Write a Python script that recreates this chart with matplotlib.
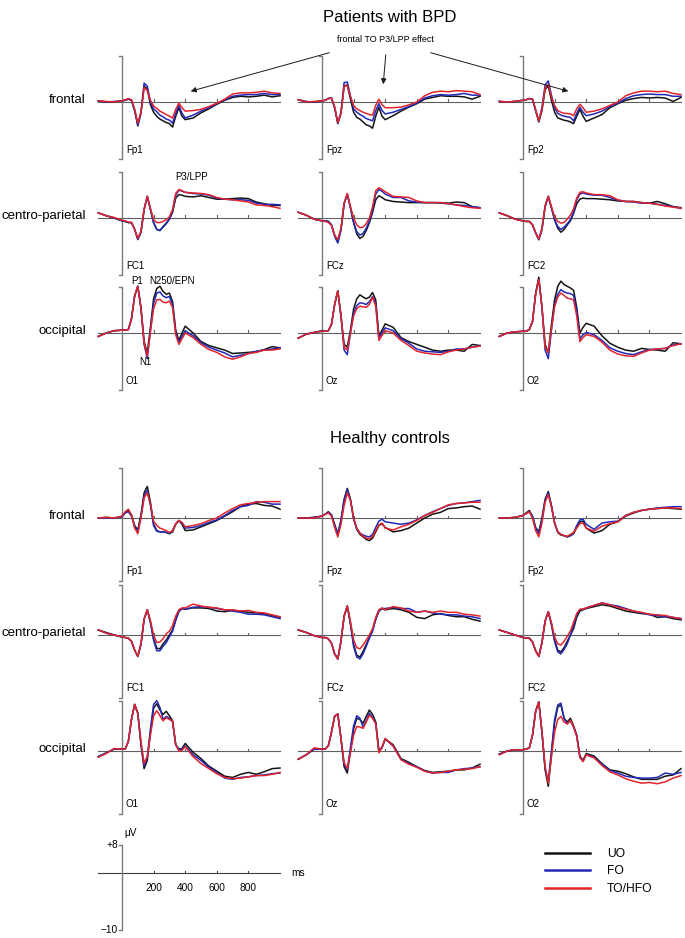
import matplotlib.pyplot as plt
from matplotlib.patches import FancyArrowPatch

plt.rcParams['font.family'] = ['Liberation Sans', 'DejaVu Sans']

# sample times (ms) shared by every trace
times = [-150, -100, -50, 0, 20, 40, 60, 80, 100, 120, 140, 160, 180, 200,
         220, 240, 260, 280, 300, 320, 340, 360, 380, 400, 450, 500, 550,
         600, 650, 700, 750, 800, 850, 900, 950, 1000]

# ---- Patients with BPD (µV) ----
bpd_fp1_uo = [0.2, 0.0, 0.0, 0.2, 0.3, 0.5, 0.3, -1.5, -4.2, -2.0, 2.8, 2.3, -0.5, -1.8, -2.5, -3.0, -3.3, -3.6, -3.8, -4.4, -2.5, -1.0, -2.5, -3.1, -2.8, -1.9, -1.2, -0.4, 0.3, 0.8, 1.0, 0.9, 1.0, 1.2, 0.9, 1.1]
bpd_fp1_fo = [0.2, 0.0, 0.1, 0.2, 0.3, 0.5, 0.3, -1.5, -4.0, -1.8, 3.3, 2.8, 0.0, -1.2, -1.7, -2.3, -2.6, -3.0, -3.2, -3.7, -2.0, -0.6, -2.0, -2.8, -2.3, -1.6, -1.0, -0.3, 0.4, 1.0, 1.2, 1.3, 1.3, 1.5, 1.3, 1.3]
bpd_fp1_to = [0.2, 0.1, 0.0, 0.2, 0.4, 0.6, 0.4, -1.2, -3.7, -1.8, 2.5, 2.0, 0.3, -0.7, -1.1, -1.6, -1.9, -2.2, -2.5, -2.8, -1.3, -0.2, -1.0, -1.6, -1.5, -1.3, -0.8, -0.2, 0.5, 1.4, 1.6, 1.6, 1.7, 1.9, 1.6, 1.5]

bpd_fpz_uo = [0.4, 0.0, 0.0, 0.2, 0.3, 0.6, 0.7, -1.0, -3.8, -2.0, 2.8, 3.0, 0.5, -1.8, -2.7, -3.0, -3.5, -4.0, -4.2, -4.6, -2.5, -0.9, -2.5, -3.1, -2.4, -1.6, -0.9, -0.3, 0.5, 0.8, 1.1, 1.0, 1.0, 0.9, 0.5, 1.0]
bpd_fpz_fo = [0.4, 0.1, 0.0, 0.2, 0.3, 0.6, 0.7, -1.0, -3.7, -1.8, 3.4, 3.5, 1.0, -1.2, -1.8, -2.2, -2.5, -2.9, -3.1, -3.3, -1.5, -0.3, -1.5, -2.1, -1.8, -1.3, -0.8, -0.2, 0.7, 1.1, 1.3, 1.2, 1.3, 1.5, 1.2, 1.2]
bpd_fpz_to = [0.4, 0.0, 0.1, 0.2, 0.3, 0.6, 0.7, -0.8, -3.6, -2.0, 2.7, 2.9, 1.0, -0.6, -1.2, -1.5, -1.8, -2.0, -2.2, -2.3, -0.6, 0.5, -0.5, -1.0, -1.0, -0.9, -0.5, 0.0, 1.1, 1.7, 1.9, 1.8, 2.0, 1.9, 1.8, 1.3]

bpd_fp2_uo = [0.1, 0.0, 0.1, 0.3, 0.4, 0.6, 0.5, -1.5, -3.5, -1.5, 2.2, 2.8, 0.3, -1.8, -2.8, -3.0, -3.2, -3.3, -3.5, -3.8, -2.5, -1.3, -2.5, -3.4, -2.8, -2.2, -1.0, -0.3, 0.3, 0.6, 0.8, 0.7, 0.8, 0.7, 0.1, 0.8]
bpd_fp2_fo = [0.1, 0.0, 0.1, 0.3, 0.4, 0.6, 0.5, -1.5, -3.4, -1.0, 3.0, 3.7, 1.2, -1.0, -2.0, -2.3, -2.5, -2.6, -2.7, -3.3, -2.0, -0.9, -1.8, -2.4, -2.1, -1.6, -0.8, -0.2, 0.6, 1.1, 1.3, 1.4, 1.3, 1.3, 1.0, 1.0]
bpd_fp2_to = [0.1, 0.0, 0.1, 0.3, 0.4, 0.6, 0.5, -1.3, -3.3, -1.2, 2.5, 3.1, 0.8, -0.6, -1.5, -1.8, -2.0, -2.0, -2.1, -2.4, -1.2, -0.4, -1.0, -1.8, -1.6, -1.2, -0.6, 0.0, 1.1, 1.6, 1.9, 1.9, 1.8, 1.9, 1.5, 1.3]

bpd_fc1_uo = [0.9, 0.4, 0.0, -0.5, -0.6, -0.8, -0.8, -2.0, -3.7, -2.5, 1.5, 3.8, 1.5, -0.8, -2.0, -2.2, -1.5, -0.9, -0.2, 1.0, 3.5, 4.1, 4.0, 3.8, 3.7, 3.9, 3.6, 3.3, 3.3, 3.4, 3.5, 3.4, 2.8, 2.5, 2.2, 2.2]
bpd_fc1_fo = [0.9, 0.4, 0.0, -0.5, -0.6, -0.8, -0.8, -2.0, -3.8, -2.5, 1.5, 3.8, 1.5, -0.8, -2.0, -2.2, -1.6, -1.0, -0.2, 1.2, 4.0, 4.9, 4.7, 4.5, 4.3, 4.2, 4.0, 3.5, 3.3, 3.2, 3.2, 3.1, 2.6, 2.4, 2.4, 2.3]
bpd_fc1_to = [0.9, 0.4, 0.1, -0.4, -0.5, -0.7, -0.8, -2.0, -3.6, -2.3, 1.5, 3.8, 1.7, -0.3, -0.8, -0.8, -0.6, -0.3, 0.2, 1.5, 4.3, 5.0, 4.8, 4.5, 4.4, 4.3, 4.1, 3.6, 3.3, 3.2, 3.0, 2.8, 2.3, 2.2, 2.0, 1.7]

bpd_fcz_uo = [1.0, 0.5, -0.2, -0.5, -0.5, -0.6, -1.2, -3.0, -4.2, -2.0, 2.5, 4.2, 1.8, -0.8, -2.8, -3.6, -3.2, -2.2, -0.8, 1.0, 3.2, 3.9, 3.6, 3.2, 2.9, 2.8, 2.7, 2.7, 2.7, 2.7, 2.7, 2.6, 2.8, 2.7, 2.0, 1.8]
bpd_fcz_fo = [1.0, 0.5, -0.2, -0.5, -0.5, -0.6, -1.2, -3.2, -4.4, -2.2, 2.5, 4.2, 1.8, -0.8, -2.4, -3.0, -2.7, -1.8, -0.5, 1.5, 4.2, 5.0, 4.7, 4.2, 3.6, 3.6, 3.0, 2.8, 2.7, 2.7, 2.6, 2.5, 2.3, 2.2, 2.0, 1.8]
bpd_fcz_to = [1.0, 0.5, -0.2, -0.5, -0.6, -0.8, -1.3, -3.0, -3.8, -1.8, 2.6, 4.3, 2.0, 0.0, -1.2, -1.7, -1.6, -1.0, 0.0, 2.0, 4.8, 5.3, 5.0, 4.6, 3.8, 3.7, 3.6, 3.0, 2.7, 2.7, 2.7, 2.5, 2.3, 2.0, 1.8, 1.7]

bpd_fc2_uo = [0.9, 0.4, -0.2, -0.5, -0.6, -0.6, -1.2, -2.6, -3.8, -2.0, 2.0, 3.8, 1.8, -0.3, -1.8, -2.5, -2.0, -1.2, -0.5, 0.8, 2.5, 3.3, 3.5, 3.4, 3.4, 3.3, 3.2, 3.0, 2.9, 2.9, 2.7, 2.6, 2.9, 2.5, 2.0, 1.8]
bpd_fc2_fo = [0.9, 0.4, -0.2, -0.5, -0.6, -0.6, -1.2, -2.6, -3.8, -2.0, 2.0, 3.8, 1.8, -0.3, -1.5, -2.0, -1.6, -1.0, -0.3, 1.0, 3.2, 4.2, 4.4, 4.2, 4.0, 4.0, 3.6, 3.1, 2.9, 2.8, 2.6, 2.6, 2.4, 2.2, 2.0, 1.7]
bpd_fc2_to = [0.9, 0.4, -0.2, -0.5, -0.6, -0.6, -1.2, -2.6, -3.7, -1.8, 2.2, 3.8, 2.0, 0.2, -0.6, -0.9, -0.8, -0.2, 0.5, 1.6, 3.5, 4.5, 4.6, 4.4, 4.1, 4.1, 3.9, 3.2, 2.9, 2.9, 2.7, 2.6, 2.4, 2.1, 1.9, 1.7]

bpd_o1_uo = [-0.6, 0.0, 0.4, 0.5, 0.5, 0.6, 2.5, 6.5, 8.2, 4.5, -1.5, -3.5, 1.0, 6.0, 7.8, 8.2, 7.3, 6.8, 7.0, 5.5, 0.5, -1.3, 0.0, 1.2, 0.0, -1.5, -2.2, -2.6, -3.0, -3.6, -3.5, -3.4, -3.3, -2.9, -2.4, -2.6]
bpd_o1_fo = [-0.6, 0.0, 0.4, 0.5, 0.5, 0.6, 2.5, 6.5, 8.2, 4.3, -2.0, -4.5, 0.5, 5.2, 7.0, 7.2, 6.5, 6.2, 6.4, 5.0, 0.0, -1.6, -0.6, 0.4, -0.5, -1.7, -2.5, -3.0, -3.5, -4.2, -3.9, -3.6, -3.2, -3.0, -2.8, -2.6]
bpd_o1_to = [-0.6, 0.0, 0.4, 0.5, 0.5, 0.6, 2.5, 6.5, 8.2, 4.4, -1.8, -4.0, 0.2, 4.3, 5.8, 5.9, 5.4, 5.3, 5.6, 4.5, -0.3, -2.0, -1.0, 0.0, -0.8, -2.0, -2.9, -3.4, -4.2, -4.6, -4.2, -3.6, -3.4, -3.0, -3.0, -2.8]

bpd_oz_uo = [-0.9, -0.2, 0.1, 0.4, 0.3, 0.4, 1.5, 5.0, 7.4, 3.0, -2.0, -2.5, 0.5, 4.2, 6.0, 6.7, 6.3, 6.0, 6.3, 7.1, 5.8, -0.5, 0.5, 1.6, 1.0, -0.8, -1.5, -2.0, -2.5, -3.0, -3.2, -3.0, -3.0, -3.2, -2.0, -2.2]
bpd_oz_fo = [-0.9, -0.2, 0.1, 0.3, 0.3, 0.4, 1.5, 5.0, 7.4, 3.0, -3.0, -3.8, 0.0, 3.5, 4.8, 5.3, 5.2, 5.0, 5.5, 6.4, 5.2, -0.8, 0.0, 0.9, 0.4, -1.0, -1.8, -2.8, -3.2, -3.3, -3.4, -3.2, -2.8, -2.8, -2.5, -2.2]
bpd_oz_to = [-0.9, -0.2, 0.1, 0.3, 0.3, 0.4, 1.5, 5.0, 7.4, 3.0, -2.5, -3.0, 0.0, 3.0, 4.3, 4.7, 4.6, 4.5, 5.0, 6.3, 4.7, -1.3, -0.4, 0.4, 0.0, -1.3, -2.2, -3.2, -3.5, -3.7, -3.8, -3.3, -3.0, -2.8, -2.5, -2.3]

bpd_o2_uo = [-0.6, 0.0, 0.2, 0.3, 0.3, 0.6, 2.0, 7.0, 9.8, 4.5, -2.0, -3.5, 1.5, 5.8, 8.2, 9.1, 8.5, 8.2, 7.9, 7.5, 4.5, 0.0, 1.0, 1.7, 1.2, -0.5, -1.8, -2.5, -3.0, -3.2, -2.7, -2.9, -3.0, -3.2, -1.7, -1.9]
bpd_o2_fo = [-0.6, 0.0, 0.2, 0.3, 0.3, 0.6, 2.0, 6.8, 9.4, 4.5, -3.0, -4.5, 0.5, 5.0, 6.8, 7.6, 7.2, 7.0, 6.9, 6.6, 4.0, -1.0, -0.3, 0.1, -0.3, -1.3, -2.6, -3.2, -3.6, -3.8, -3.3, -2.9, -2.8, -2.7, -2.1, -1.9]
bpd_o2_to = [-0.6, 0.0, 0.2, 0.3, 0.3, 0.6, 2.0, 6.8, 9.4, 4.5, -2.5, -3.4, 0.8, 4.6, 6.3, 7.0, 6.6, 6.1, 6.0, 5.8, 3.0, -1.5, -0.8, -0.3, -0.6, -1.6, -3.0, -3.7, -4.0, -4.1, -3.5, -3.0, -2.8, -2.7, -2.2, -1.9]

# ---- Healthy controls (µV) ----
hc_fp1_uo = [0.0, 0.1, 0.0, 0.2, 0.8, 1.2, 0.5, -1.2, -1.9, 0.5, 4.0, 5.0, 2.5, -1.0, -2.0, -2.2, -2.2, -2.3, -2.5, -2.2, -1.0, -0.4, -1.0, -2.0, -1.9, -1.4, -0.9, -0.4, 0.3, 1.0, 1.8, 2.2, 2.3, 2.0, 1.9, 1.4]
hc_fp1_fo = [0.0, 0.0, 0.0, 0.2, 0.8, 1.0, 0.3, -1.3, -2.2, 0.2, 3.5, 4.4, 2.0, -1.2, -2.1, -2.2, -2.2, -2.3, -2.4, -2.0, -0.9, -0.4, -0.8, -1.6, -1.5, -1.2, -0.7, -0.3, 0.4, 1.2, 1.8, 2.0, 2.6, 2.5, 2.2, 2.2]
hc_fp1_to = [0.0, 0.1, 0.0, 0.3, 1.0, 1.4, 0.5, -1.6, -2.5, 0.0, 3.2, 4.0, 2.2, -0.5, -1.2, -1.6, -1.8, -2.0, -2.3, -2.0, -0.9, -0.4, -0.7, -1.4, -1.2, -0.9, -0.4, 0.0, 0.8, 1.5, 2.1, 2.3, 2.5, 2.6, 2.6, 2.6]

hc_fpz_uo = [0.0, 0.0, 0.1, 0.3, 0.6, 1.0, 0.5, -1.0, -2.5, -0.5, 3.0, 4.7, 3.0, 0.0, -1.8, -2.6, -3.0, -3.4, -3.6, -3.2, -2.2, -1.2, -0.9, -1.5, -2.2, -2.0, -1.6, -0.8, 0.0, 0.6, 0.9, 1.5, 1.6, 1.8, 1.9, 1.4]
hc_fpz_fo = [0.0, 0.0, 0.1, 0.3, 0.6, 0.9, 0.5, -1.2, -2.5, -0.3, 2.8, 4.5, 2.8, -0.2, -1.7, -2.4, -2.7, -2.9, -3.0, -2.6, -1.5, -0.5, -0.2, -0.6, -0.8, -1.0, -0.8, -0.3, 0.4, 1.0, 1.5, 2.0, 2.3, 2.4, 2.6, 2.8]
hc_fpz_to = [0.0, 0.0, 0.0, 0.3, 0.6, 0.8, 0.3, -1.5, -3.0, -1.0, 2.0, 4.0, 2.8, 0.0, -1.6, -2.4, -2.9, -3.2, -3.3, -2.9, -2.0, -1.1, -0.8, -1.6, -1.9, -1.4, -1.0, -0.4, 0.4, 0.9, 1.5, 2.1, 2.3, 2.4, 2.5, 2.5]

hc_fp2_uo = [0.0, 0.0, 0.1, 0.4, 0.8, 1.2, 0.3, -1.5, -2.2, 0.0, 3.0, 4.2, 2.0, -0.8, -2.3, -2.7, -2.8, -3.0, -2.8, -2.5, -1.5, -0.6, -0.5, -1.6, -2.4, -2.0, -1.0, -0.6, 0.3, 0.8, 1.2, 1.4, 1.5, 1.6, 1.5, 1.4]
hc_fp2_fo = [0.0, 0.0, 0.1, 0.4, 0.7, 1.0, 0.3, -1.6, -2.5, -0.3, 2.8, 4.0, 1.8, -0.8, -2.2, -2.6, -2.8, -3.0, -2.8, -2.4, -1.2, -0.3, -0.2, -1.0, -1.8, -0.8, -0.6, -0.5, 0.4, 0.9, 1.2, 1.4, 1.6, 1.7, 1.8, 1.8]
hc_fp2_to = [0.0, 0.0, 0.1, 0.4, 0.7, 1.0, 0.0, -2.0, -3.0, -0.8, 2.5, 3.7, 1.8, -0.8, -2.2, -2.6, -2.8, -2.9, -2.6, -2.3, -1.6, -0.9, -0.8, -1.6, -2.1, -1.3, -0.9, -0.6, 0.4, 0.9, 1.2, 1.4, 1.5, 1.6, 1.6, 1.5]

hc_fc1_uo = [0.8, 0.4, 0.0, -0.3, -0.4, -0.5, -1.0, -2.4, -3.4, -1.5, 2.5, 4.0, 2.0, -0.6, -2.1, -2.2, -1.4, -0.8, 0.0, 0.8, 2.5, 3.8, 4.2, 4.1, 4.3, 4.3, 4.2, 3.8, 3.7, 3.9, 3.8, 3.6, 3.5, 3.4, 3.1, 2.8]
hc_fc1_fo = [0.8, 0.3, 0.0, -0.3, -0.4, -0.5, -1.0, -2.4, -3.4, -1.5, 2.5, 4.0, 2.0, -0.8, -2.5, -2.5, -1.8, -1.2, -0.3, 0.6, 2.3, 3.7, 4.2, 4.1, 4.4, 4.5, 4.4, 4.2, 4.0, 3.8, 3.6, 3.3, 3.3, 3.2, 2.9, 2.6]
hc_fc1_to = [0.8, 0.3, 0.0, -0.3, -0.4, -0.5, -1.0, -2.4, -3.4, -1.3, 2.6, 4.0, 2.3, 0.0, -1.2, -1.1, -0.6, 0.2, 0.6, 1.5, 3.0, 4.0, 4.3, 4.3, 4.9, 4.6, 4.4, 4.3, 4.0, 4.0, 3.8, 3.9, 3.6, 3.5, 3.2, 2.9]

hc_fcz_uo = [0.8, 0.4, -0.1, -0.4, -0.4, -0.6, -1.3, -3.0, -3.8, -1.0, 3.0, 4.6, 1.8, -1.5, -3.2, -3.5, -2.6, -1.5, -0.4, 0.8, 2.5, 3.8, 4.2, 4.0, 4.2, 4.0, 3.6, 2.8, 2.6, 3.2, 3.4, 3.1, 2.9, 2.9, 2.5, 2.2]
hc_fcz_fo = [0.8, 0.4, -0.1, -0.4, -0.4, -0.6, -1.3, -3.0, -3.8, -1.0, 3.0, 4.6, 1.8, -1.8, -3.5, -3.8, -3.0, -1.8, -0.5, 0.6, 2.5, 3.8, 4.2, 4.2, 4.4, 4.2, 4.2, 3.6, 3.8, 3.5, 3.3, 3.2, 3.2, 3.0, 2.9, 2.6]
hc_fcz_to = [0.8, 0.4, -0.1, -0.4, -0.4, -0.6, -1.3, -3.0, -3.8, -1.0, 3.0, 4.6, 2.2, -0.8, -2.0, -2.2, -1.6, -0.8, 0.0, 1.0, 2.8, 4.0, 4.3, 4.0, 4.5, 4.3, 3.8, 3.6, 3.8, 3.6, 3.8, 3.6, 3.6, 3.3, 3.2, 3.0]

hc_fc2_uo = [0.8, 0.4, 0.0, -0.4, -0.5, -0.5, -1.1, -2.5, -3.4, -1.2, 2.2, 3.7, 1.8, -0.8, -2.4, -2.7, -2.0, -1.0, 0.0, 1.0, 2.8, 3.8, 4.0, 4.2, 4.5, 4.8, 4.6, 4.2, 3.8, 3.6, 3.4, 3.3, 2.8, 2.9, 2.6, 2.4]
hc_fc2_fo = [0.8, 0.4, 0.0, -0.4, -0.5, -0.5, -1.1, -2.5, -3.4, -1.2, 2.2, 3.7, 1.6, -1.0, -2.7, -3.0, -2.3, -1.4, 0.0, 1.5, 3.2, 4.0, 4.1, 4.3, 4.7, 5.1, 4.8, 4.6, 4.2, 3.8, 3.5, 3.2, 3.1, 2.9, 2.8, 2.6]
hc_fc2_to = [0.8, 0.4, 0.0, -0.4, -0.5, -0.5, -1.1, -2.5, -3.4, -1.2, 2.2, 3.7, 1.9, -0.3, -1.4, -1.6, -1.0, -0.2, 0.6, 2.0, 3.4, 4.1, 4.1, 4.3, 4.7, 5.1, 4.8, 4.4, 4.1, 3.8, 3.6, 3.3, 3.2, 3.1, 2.8, 2.6]

hc_o1_uo = [-0.9, -0.3, 0.3, 0.3, 0.3, 1.5, 5.0, 7.4, 6.0, 1.0, -2.8, -1.5, 3.0, 6.8, 7.5, 6.5, 5.8, 6.3, 5.6, 4.8, 1.0, 0.3, 0.4, 1.2, -0.2, -1.2, -2.4, -3.2, -4.0, -4.2, -3.7, -3.4, -3.7, -3.3, -2.8, -2.7]
hc_o1_fo = [-0.9, -0.3, 0.3, 0.3, 0.3, 1.5, 5.0, 7.4, 6.0, 1.2, -2.4, -1.0, 3.5, 7.4, 8.0, 6.9, 5.0, 5.5, 5.2, 4.6, 1.0, 0.2, 0.3, 0.8, -0.6, -1.5, -2.6, -3.4, -4.3, -4.5, -4.2, -4.1, -3.9, -3.8, -3.6, -3.5]
hc_o1_to = [-1.0, -0.4, 0.4, 0.3, 0.3, 1.5, 5.0, 7.4, 6.0, 1.5, -2.0, -0.8, 2.5, 5.6, 6.4, 5.6, 4.8, 5.3, 5.0, 4.8, 1.0, 0.0, 0.1, 0.7, -0.9, -2.0, -2.8, -3.6, -4.2, -4.4, -4.3, -4.1, -3.9, -3.9, -3.7, -3.4]

hc_oz_uo = [-1.3, -0.6, 0.3, 0.3, 0.3, 0.8, 3.0, 5.5, 5.9, 2.0, -2.5, -3.5, 0.0, 3.5, 5.2, 5.0, 4.4, 5.5, 6.5, 5.8, 4.6, 0.0, 0.6, 1.9, 1.0, -1.2, -1.8, -2.5, -3.1, -3.4, -3.3, -3.2, -3.0, -3.0, -2.7, -2.1]
hc_oz_fo = [-1.3, -0.6, 0.3, 0.3, 0.3, 0.8, 3.0, 5.5, 5.9, 2.0, -2.2, -3.0, 0.5, 4.0, 5.6, 5.2, 3.8, 4.8, 6.0, 5.3, 4.5, 0.0, 0.5, 1.9, 0.8, -1.3, -2.0, -2.5, -3.2, -3.5, -3.4, -3.4, -3.0, -2.8, -2.7, -2.5]
hc_oz_to = [-1.3, -0.6, 0.5, 0.3, 0.3, 0.8, 3.0, 5.5, 5.9, 2.0, -1.8, -2.8, -0.3, 2.5, 3.9, 3.8, 3.6, 4.6, 5.7, 5.2, 4.3, -0.3, 0.6, 2.0, 0.8, -1.4, -2.1, -2.6, -3.2, -3.5, -3.4, -3.2, -3.0, -2.9, -2.8, -2.5]

hc_o2_uo = [-0.5, 0.0, 0.2, 0.2, 0.3, 0.5, 2.5, 6.3, 7.8, 3.0, -3.0, -5.6, -0.5, 4.5, 7.0, 7.3, 5.2, 4.6, 5.2, 4.0, 2.5, -0.8, -1.5, -0.4, -0.8, -2.0, -3.0, -3.2, -3.6, -4.1, -4.5, -4.5, -4.5, -4.0, -3.8, -2.8]
hc_o2_fo = [-0.5, 0.0, 0.2, 0.2, 0.3, 0.5, 2.5, 6.3, 7.8, 3.0, -2.8, -4.8, 0.0, 5.0, 7.3, 7.6, 5.2, 4.3, 4.8, 3.8, 2.5, -1.0, -1.6, -0.6, -1.0, -2.1, -3.1, -3.5, -4.0, -4.2, -4.3, -4.3, -4.2, -3.5, -3.7, -3.4]
hc_o2_to = [-0.6, 0.0, 0.2, 0.2, 0.3, 0.5, 2.5, 6.3, 7.8, 3.0, -2.5, -5.1, -1.0, 3.0, 5.0, 5.5, 4.6, 4.3, 4.9, 3.8, 2.3, -1.0, -1.7, -0.6, -1.1, -2.3, -3.3, -3.8, -4.4, -4.8, -5.1, -5.0, -5.2, -4.9, -4.3, -3.9]

conditions = ['UO', 'FO', 'TO/HFO']
colors = ['#141414', '#2029b8', '#e3242b']
row_names = ['frontal', 'centro-parietal', 'occipital']
electrodes = [['Fp1', 'Fpz', 'Fp2'], ['FC1', 'FCz', 'FC2'], ['O1', 'Oz', 'O2']]

bpd = [[(bpd_fp1_uo, bpd_fp1_fo, bpd_fp1_to), (bpd_fpz_uo, bpd_fpz_fo, bpd_fpz_to), (bpd_fp2_uo, bpd_fp2_fo, bpd_fp2_to)],
       [(bpd_fc1_uo, bpd_fc1_fo, bpd_fc1_to), (bpd_fcz_uo, bpd_fcz_fo, bpd_fcz_to), (bpd_fc2_uo, bpd_fc2_fo, bpd_fc2_to)],
       [(bpd_o1_uo, bpd_o1_fo, bpd_o1_to), (bpd_oz_uo, bpd_oz_fo, bpd_oz_to), (bpd_o2_uo, bpd_o2_fo, bpd_o2_to)]]
hc = [[(hc_fp1_uo, hc_fp1_fo, hc_fp1_to), (hc_fpz_uo, hc_fpz_fo, hc_fpz_to), (hc_fp2_uo, hc_fp2_fo, hc_fp2_to)],
      [(hc_fc1_uo, hc_fc1_fo, hc_fc1_to), (hc_fcz_uo, hc_fcz_fo, hc_fcz_to), (hc_fc2_uo, hc_fc2_fo, hc_fc2_to)],
      [(hc_o1_uo, hc_o1_fo, hc_o1_to), (hc_oz_uo, hc_oz_fo, hc_oz_to), (hc_o2_uo, hc_o2_fo, hc_o2_to)]]

W, H = 685, 938
PX_MS = 0.158          # pixels per ms
col_x0 = [122, 322, 523]  # pixel x of t = 0
bpd_y0 = [102, 218, 333]  # pixel y of 0 µV
hc_y0 = [518, 635, 751]
BPD_PPU = 5.7          # pixels per µV
HC_PPU = 6.3
AXIS_GREY = '#7a7a7a'

fig = plt.figure(figsize=(W / 100, H / 100), dpi=100)


def make_axes(x0, y0, ppu):
    left = x0 - 150 * PX_MS
    width = 1150 * PX_MS
    top = y0 - 8 * ppu
    height = 18 * ppu
    ax = fig.add_axes([left / W, 1 - (top + height) / H, width / W, height / H])
    ax.set_xlim(-150, 1000)
    ax.set_ylim(-10, 8)
    ax.axis('off')
    return ax


def draw_frame(ax, ppu):
    ax.plot([-150, 1000], [0, 0], color='#606060', lw=0.8, clip_on=False)
    for t in [200, 400, 600, 800]:
        ax.plot([t, t], [0, 2.5 / ppu], color='#606060', lw=0.8, clip_on=False)
    ax.plot([-19, 0, 0, -19], [8, 8, -10, -10], color=AXIS_GREY, lw=1.0, clip_on=False)


handles = []
for block, y0s, ppu in [(bpd, bpd_y0, BPD_PPU), (hc, hc_y0, HC_PPU)]:
    for r in range(3):
        for c in range(3):
            ax = make_axes(col_x0[c], y0s[r], ppu)
            draw_frame(ax, ppu)
            for series, col, lab in zip(block[r][c], colors, conditions):
                ln, = ax.plot(times, series, color=col, lw=1.1, label=lab, clip_on=False)
                if len(handles) < 3:
                    handles.append(ln)
            ax.text(25, -8.4, electrodes[r][c], fontsize=7, ha='left', va='center')
        fig.text(86 / W, 1 - (y0s[r] - 2) / H, row_names[r], fontsize=9.5,
                 ha='right', va='center')

# titles
fig.text(390 / W, 1 - 18 / H, 'Patients with BPD', fontsize=12, ha='center', va='center')
fig.text(390 / W, 1 - 438 / H, 'Healthy controls', fontsize=12, ha='center', va='center')

# component labels
fig.text(385 / W, 1 - 40 / H, 'frontal TO P3/LPP effect', fontsize=6.5, ha='center', va='center')
for (xa, ya), (xb, yb) in [((332, 52), (188, 92)), ((386, 52), (383, 87)), ((428, 52), (571, 92))]:
    fig.add_artist(FancyArrowPatch((xa / W, 1 - ya / H), (xb / W, 1 - yb / H),
                                   transform=fig.transFigure, arrowstyle='-|>',
                                   mutation_scale=8, lw=0.7, color='#1a1a1a'))
fig.text(192 / W, 1 - 177 / H, 'P3/LPP', fontsize=7, ha='center', va='center')
fig.text(137 / W, 1 - 281 / H, 'P1', fontsize=7, ha='center', va='center')
fig.text(172 / W, 1 - 281 / H, 'N250/EPN', fontsize=7, ha='center', va='center')
fig.text(145 / W, 1 - 362 / H, 'N1', fontsize=7, ha='center', va='center')

# scale bar (its upper arm is drawn shorter, as in the original figure)
SB_TOP = 28 / BPD_PPU
sax = make_axes(col_x0[0], 873, BPD_PPU)
sax.plot([-150, 1000], [0, 0], color='#404040', lw=0.8, clip_on=False)
sax.plot([-19, 0, 0, -19], [SB_TOP, SB_TOP, -10, -10], color=AXIS_GREY, lw=1.0, clip_on=False)
for t in [200, 400, 600, 800]:
    sax.plot([t, t], [0, 2.5 / BPD_PPU], color='#404040', lw=0.8, clip_on=False)
    sax.text(t, -2.6, str(t), fontsize=7.3, ha='center', va='center')
sax.text(1070, 0, 'ms', fontsize=7.3, ha='left', va='center')
sax.text(-25, SB_TOP, '+8', fontsize=7.3, ha='right', va='center')
sax.text(-25, -10, '\u221210', fontsize=7.3, ha='right', va='center')
sax.text(15, SB_TOP + 2.1, '\u03bcV', fontsize=7.3, ha='left', va='center')

leg = fig.legend(handles=handles, labels=conditions, loc='upper left',
                 bbox_to_anchor=(545 / W, 1 - 848 / H), frameon=False, fontsize=8.7,
                 handlelength=3.7, handletextpad=1.4, labelspacing=0.45,
                 borderpad=0, borderaxespad=0)
for ln in leg.get_lines():
    ln.set_linewidth(1.8)

fig.savefig('out.png', dpi=100)
